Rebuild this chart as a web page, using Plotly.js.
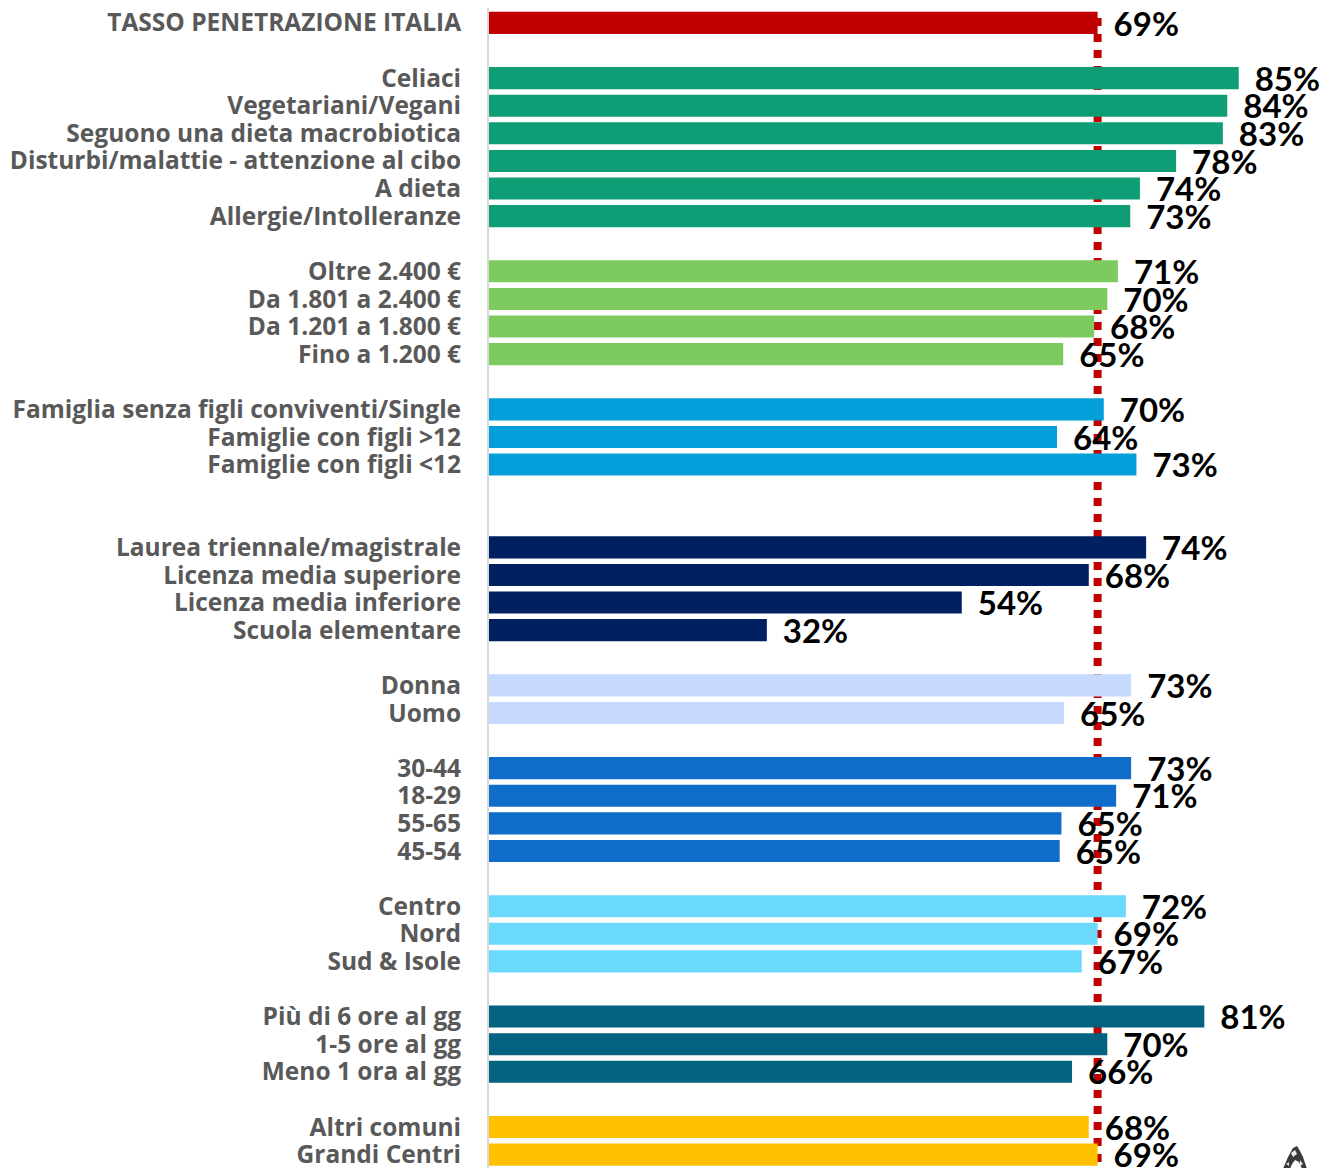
<!DOCTYPE html>
<html>
<head>
<meta charset="utf-8">
<script src="https://cdn.plot.ly/plotly-3.0.1.min.js"></script>
<style>html,body{margin:0;padding:0;background:#fff;overflow:hidden;width:1322px;height:1168px}#chart{width:1322px;height:1200px}</style>
</head>
<body>
<div id="chart"></div>
<script>
const categories = ["TASSO PENETRAZIONE ITALIA","",
"Celiaci","Vegetariani/Vegani","Seguono una dieta macrobiotica","Disturbi/malattie - attenzione al cibo","A dieta","Allergie/Intolleranze","",
"Oltre 2.400 €","Da 1.801 a 2.400 €","Da 1.201 a 1.800 €","Fino a 1.200 €","",
"Famiglia senza figli conviventi/Single","Famiglie con figli >12","Famiglie con figli <12","","",
"Laurea triennale/magistrale","Licenza media superiore","Licenza media inferiore","Scuola elementare","",
"Donna","Uomo","",
"30-44","18-29","55-65","45-54","",
"Centro","Nord","Sud & Isole","",
"Più di 6 ore al gg","1-5 ore al gg","Meno 1 ora al gg","",
"Altri comuni","Grandi Centri"];
const values = [69,null,
85,83.7,83.2,77.9,73.8,72.7,null,
71.3,70.1,68.6,65.1,null,
69.7,64.4,73.4,null,null,
74.5,68,53.6,31.5,null,
72.8,65.2,null,
72.8,71.1,64.9,64.7,null,
72.2,69,67.2,null,
81.1,70.1,66.1,null,
68,69];
const valueLabels = ["69%","",
"85%","84%","83%","78%","74%","73%","",
"71%","70%","68%","65%","",
"70%","64%","73%","","",
"74%","68%","54%","32%","",
"73%","65%","",
"73%","71%","65%","65%","",
"72%","69%","67%","",
"81%","70%","66%","",
"68%","69%"];
const barColors = ["#C00000","",
"#0F9D75","#0F9D75","#0F9D75","#0F9D75","#0F9D75","#0F9D75","",
"#7DCB5F","#7DCB5F","#7DCB5F","#7DCB5F","",
"#039FDB","#039FDB","#039FDB","","",
"#00205F","#00205F","#00205F","#00205F","",
"#C6D9FE","#C6D9FE","",
"#0F6CC9","#0F6CC9","#0F6CC9","#0F6CC9","",
"#69D9FC","#69D9FC","#69D9FC","",
"#03627F","#03627F","#03627F","",
"#FFC000","#FFC000"];
const nationalRate = values[0];
const rows = categories.map((c,i)=>i);
const yRange = [42.645,-0.54];
const labelDrop = 0.16;

const logoSvg = '<svg xmlns="http://www.w3.org/2000/svg" viewBox="0 0 26 24"><path d="M1 24 L6 12 L11 3 L15 1 L18 6 L21 12 L25 24 L20 24 L17 17 L13 15 L10 19 L8 24 Z" fill="#3a3a3a"/><path d="M9 8 L13 5 L15 9 L11 12 Z M4 19 L7 17 L7 21 Z M18 15 L21 19 L18 21 Z" fill="#e8e8e8"/></svg>';

const traces = [
  {type:"bar",orientation:"h",y:rows,x:values,width:0.8,
   marker:{color:barColors,line:{width:0}},hoverinfo:"skip",showlegend:false},
  {type:"scatter",mode:"markers+text",y:rows,x:values,yaxis:"y2",text:valueLabels,
   textposition:"middle right",cliponaxis:false,
   marker:{size:24,opacity:0},
   textfont:{family:"Lato, sans-serif",size:33,color:"#000000",weight:700},
   hoverinfo:"skip",showlegend:false}
];
const layout = {
  width:1322,height:1200,
  margin:{l:489,r:0,t:8,b:0,pad:0},
  paper_bgcolor:"#fff",plot_bgcolor:"#fff",
  showlegend:false,
  xaxis:{range:[0,94.44],visible:false,fixedrange:true},
  yaxis:{range:yRange,tickmode:"array",tickvals:rows,ticktext:categories,
    showgrid:false,zeroline:false,showline:true,linecolor:"#D9D9D9",linewidth:2,
    ticks:"",ticklabelstandoff:21,
    tickfont:{family:"'Open Sans', sans-serif",size:24.5,color:"#595959",weight:700},fixedrange:true},
  yaxis2:{range:[yRange[0]-labelDrop,yRange[1]-labelDrop],overlaying:"y",visible:false,fixedrange:true},
  shapes:[{type:"line",layer:"below",xref:"x",yref:"paper",x0:nationalRate,x1:nationalRate,y0:0.9916,y1:0,
    line:{color:"#C00000",width:8,dash:"8px,8px"}}],
  images:[{source:"data:image/svg+xml;utf8,"+encodeURIComponent(logoSvg),xref:"paper",yref:"paper",
    x:0.952,y:0.0462,sizex:0.0312,sizey:0.0201,xanchor:"left",yanchor:"top",sizing:"stretch",layer:"above"}]
};
Plotly.newPlot("chart",traces,layout,{displayModeBar:false,staticPlot:true});
</script>
</body>
</html>
